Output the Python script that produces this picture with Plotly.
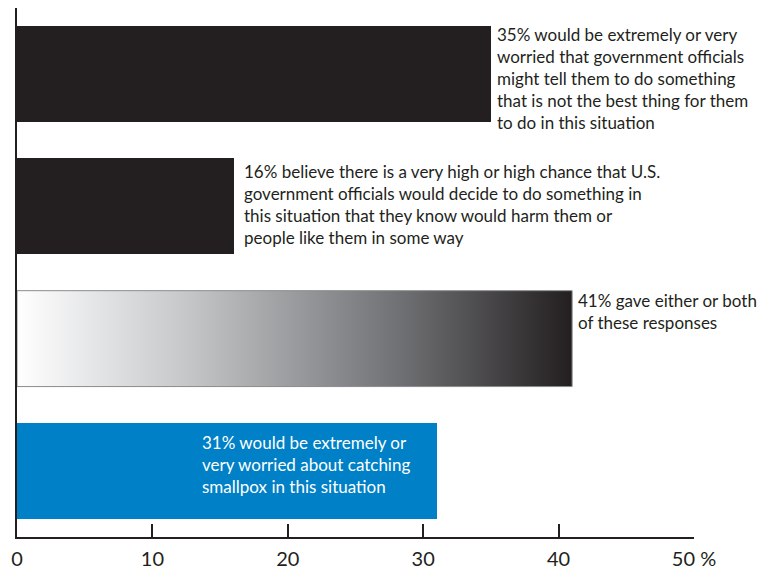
import plotly.graph_objects as go

# ---- data ----
categories = ["worried_officials", "harm_chance", "either_both", "smallpox"]
values = [35, 16, 41, 31]
labels = [
    "35% would be extremely or very<br>worried that government officials<br>might tell them to do something<br>that is not the best thing for them<br>to do in this situation",
    "16% believe there is a very high or high chance that U.S.<br>government officials would decide to do something in<br>this situation that they know would harm them or<br>people like them in some way",
    "41% gave either or both<br>of these responses",
    "31% would be extremely or<br>very worried about catching<br>smallpox in this situation",
]
tick_vals = [0, 10, 20, 30, 40, 50]
tick_text = ["0", "10", "20", "30", "40", "50 %"]

# ---- styles ----
DARK = "#231f20"
BLUE = "#0080c6"
BAR_W = 0.725
FONT = "Lato"
positions = list(range(len(categories)))

fig = go.Figure()

# solid bars (all except the gradient one)
solid_idx = [0, 1, 3]
solid_colors = {0: DARK, 1: DARK, 3: BLUE}
fig.add_trace(go.Bar(
    x=[values[i] for i in solid_idx],
    y=[positions[i] for i in solid_idx],
    orientation="h",
    width=BAR_W,
    marker=dict(color=[solid_colors[i] for i in solid_idx], line=dict(width=0)),
    hoverinfo="skip",
    showlegend=False,
))

# gradient bar drawn as a filled polygon from its value
gi = 2
y0, y1 = positions[gi] - BAR_W / 2, positions[gi] + BAR_W / 2
fig.add_trace(go.Scatter(
    x=[0, values[gi], values[gi], 0, 0],
    y=[y0, y0, y1, y1, y0],
    mode="lines",
    fill="toself",
    line=dict(color="#8a8b8d", width=1),
    fillgradient=dict(
        type="horizontal",
        colorscale=[[0, "#ffffff"], [0.3, "#c6c8ca"], [0.7, "#6d6e71"], [1, "#231f20"]],
    ),
    hoverinfo="skip",
    showlegend=False,
))

# annotations
label_cfg = [
    dict(x=values[0], xshift=4, yshift=4, color=DARK),
    dict(x=values[1], xshift=8, yshift=-1, color=DARK),
    dict(x=values[2], xshift=4, yshift=3, color=DARK),
    dict(x=13.5, xshift=0, yshift=-7, color="#ffffff"),
]
for i, cfg in enumerate(label_cfg):
    fig.add_annotation(
        x=cfg["x"], y=positions[i] - BAR_W / 2,
        xref="x", yref="y",
        text=labels[i], showarrow=False,
        xanchor="left", yanchor="top", align="left",
        xshift=cfg["xshift"], yshift=cfg["yshift"],
        font=dict(family=FONT, size=17, color=cfg["color"]),
    )

fig.update_layout(
    width=764, height=571,
    margin=dict(l=17, r=70, t=8, b=34, autoexpand=False),
    paper_bgcolor="white", plot_bgcolor="white",
    font=dict(family=FONT, color=DARK),
    bargap=0,
)
fig.update_xaxes(
    range=[0, 50], tickvals=tick_vals, ticktext=tick_text,
    showgrid=False, zeroline=False, automargin=False,
    showline=True, linecolor=DARK, linewidth=2,
    ticks="inside", ticklen=13, tickwidth=1.5, tickcolor=DARK,
    tickfont=dict(family=FONT, size=20, color=DARK),
    ticklabelstandoff=3,
)
fig.update_yaxes(
    range=[3.5, -0.5], showticklabels=False, showgrid=False, zeroline=False,
    automargin=False,
    showline=True, linecolor=DARK, linewidth=2, ticks="",
)

fig.write_html("out.html")
